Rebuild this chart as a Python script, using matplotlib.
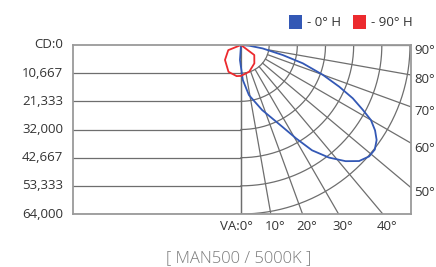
import numpy as np
import matplotlib.pyplot as plt
from matplotlib.patches import Rectangle

plt.rcParams['font.family'] = ['Open Sans', 'DejaVu Sans']

# candela scale
cd_ticks = [0, 10667, 21333, 32000, 42667, 53333, 64000]
cd_labels = ["CD:0", "10,667", "21,333", "32,000", "42,667", "53,333", "64,000"]
cd_max = 64000

# vertical angle grid
va_angles = [0, 10, 20, 30, 40, 50, 60, 70, 80, 90]
va_bottom = [0, 10, 20, 30, 40]
va_right = [50, 60, 70, 80, 90]

# 0 deg H plane (angle from nadir, candela)
h0_angles = [0, -4, 3, 9, 18, 26, 30.5, 34, 38, 42, 45.5, 49, 52, 55, 57.5,
             60, 62, 64.5, 67, 70, 73.5, 76.5, 81, 85, 90]
h0_cd = [0, 5700, 13300, 19200, 25900, 33600, 41000, 48100, 54100, 59200, 62700, 64300,
         64300, 62700, 60200, 56800, 52200, 46900, 40400, 32900, 24400, 16200, 8300, 3200, 0]

# 90 deg H plane
h90_angles = [-90, -68, -47, -25, -8, 0, 17, 36, 53, 90]
h90_cd = [0, 5200, 8300, 11200, 11900, 11700, 10600, 8600, 6300, 0]

series_names = ["- 0\u00b0 H", "- 90\u00b0 H"]
series_colors = ["#3358b5", "#ec2a2e"]

W, H = 436, 267
fig = plt.figure(figsize=(W / 100, H / 100), dpi=100)
ax = fig.add_axes([73 / W, 1 - 214 / H, 338 / W, 169 / H])
ax.set_xlim(-cd_max * 168 / 169, cd_max * 170 / 169)
ax.set_ylim(cd_max, 0)
ax.set_xticks([])
ax.set_yticks([])
for s in ax.spines.values():
    s.set_color('#9a9a9a')
    s.set_linewidth(1.3)

grid = '#6e6e6e'
# horizontal lines on the left and arcs on the right
t = np.radians(np.linspace(0, 90, 200))
for c in cd_ticks[1:]:
    ax.plot([-cd_max * 2, 0], [c, c], color=grid, lw=0.9)
    ax.plot(c * np.sin(t), c * np.cos(t), color=grid, lw=0.9)
ax.plot([0, 0], [0, cd_max], color=grid, lw=0.9)

# radial lines
for a in va_angles:
    ar = np.radians(a)
    ax.plot([cd_ticks[1] * np.sin(ar), 3 * cd_max * np.sin(ar)],
            [cd_ticks[1] * np.cos(ar), 3 * cd_max * np.cos(ar)], color=grid, lw=0.9)

# curves
for ang, cd, col in [(h0_angles, h0_cd, series_colors[0]), (h90_angles, h90_cd, series_colors[1])]:
    ar = np.radians(ang)
    cd = np.array(cd)
    ax.plot(cd * np.sin(ar), cd * np.cos(ar), color=col, lw=1.3, solid_joinstyle='round')

txt = '#333333'
px = cd_max / 169.0
for c, lab in zip(cd_ticks, cd_labels):
    ax.text(-178 * px, c, lab, ha='right', va='center', fontsize=9.5, color=txt, clip_on=False)

for a in va_bottom:
    lab = ("VA:%d\u00b0" if a == 0 else "%d\u00b0") % a
    x = cd_max * np.tan(np.radians(a))
    if a == 0:
        ax.text(12 * px, cd_max + 13 * px, lab, ha='right', va='center', fontsize=9.5, color=txt, clip_on=False)
    else:
        ax.text(x + 4 * px, cd_max + 13 * px, lab, ha='center', va='center', fontsize=9.5, color=txt, clip_on=False)

for a in va_right:
    y = 170 * px / np.tan(np.radians(a))
    ax.text(173 * px, y + 5 * px, "%d\u00b0" % a, ha='left', va='center', fontsize=9.5, color=txt, clip_on=False)

# legend
for (x0, name, col) in [(289, series_names[0], series_colors[0]), (353, series_names[1], series_colors[1])]:
    fig.add_artist(Rectangle((x0 / W, 1 - 28.5 / H), 13 / W, 13 / H, transform=fig.transFigure,
                             facecolor=col, edgecolor='none'))
    fig.text((x0 + 18) / W, 1 - 22 / H, name, ha='left', va='center', fontsize=9.5, color=txt)

fig.text(239 / W, 1 - 258 / H, "[ MAN500 / 5000K ]", ha='center', va='center',
         fontsize=12, color='#7c7c7c', fontweight='light')

fig.savefig('out.png', dpi=100)
